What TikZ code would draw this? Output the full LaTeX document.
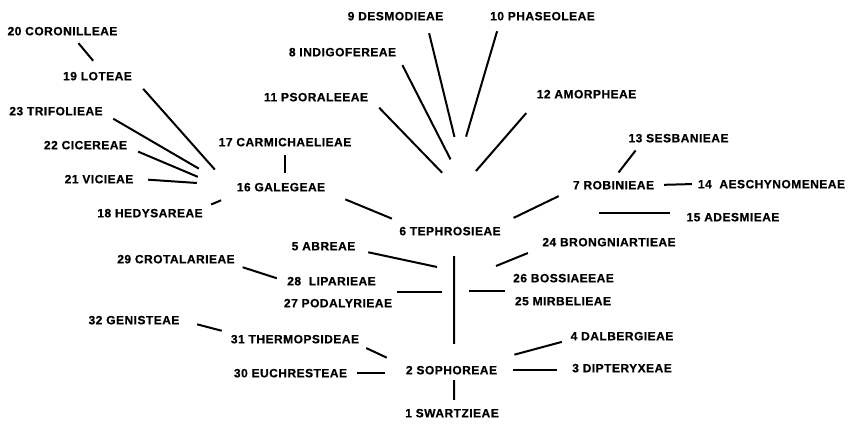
\documentclass[tikz,border=0pt]{standalone}
\usepackage{fontspec}
\setmainfont{Liberation Sans}[LetterSpace=4,FakeBold=0.6]

\begin{document}
\begin{tikzpicture}[x=1pt,y=1pt,
  tribe/.style={font=\bfseries\fontsize{12}{12}\selectfont,
    text height=8.6pt, text depth=0pt, inner xsep=0pt, inner ysep=1.5pt,
    minimum width={#1pt+3pt}},
  link/.style={line width=2pt}]
  \useasboundingbox (0,0) rectangle (853,436);

  % Tribes, placed at the centres of their labels
  \node[tribe=100] (swartz)  at (452,23)    {1 SWARTZIEAE};
  \node[tribe=99]  (sophor)  at (451.5,66)  {2 SOPHOREAE};
  \node[tribe=100] (dipter)  at (622,68)    {3 DIPTERYXEAE};
  \node[tribe=100] (dalberg) at (622,100)   {4 DALBERGIEAE};
  \node[tribe=69]  (abre)    at (323.5,190) {5 ABREAE};
  \node[tribe=100] (tephros) at (450,205)   {6 TEPHROSIEAE};
  \node[tribe=85]  (robin)   at (613.5,251) {7 ROBINIEAE};
  \node[tribe=109] (indigo)  at (342.5,384) {8 INDIGOFEREAE};
  \node[tribe=101] (desmod)  at (395.5,420) {9 DESMODIEAE};
  \node[tribe=105] (phaseol) at (542.5,420) {10 PHASEOLEAE};
  \node[tribe=104] (psoral)  at (316,339)   {11 PSORALEEAE};
  \node[tribe=101] (amorph)  at (586.5,342) {12 AMORPHEAE};
  \node[tribe=101] (sesban)  at (678.5,298) {13 SESBANIEAE};
  \node[tribe=151] (aeschyn) at (771.5,252) {14\ \ AESCHYNOMENEAE};
  \node[tribe=92]  (adesm)   at (733,219)   {15 ADESMIEAE};
  \node[tribe=98]  (galeg)   at (281,249)   {16 GALEGEAE};
  \node[tribe=133] (carmich) at (285,294)   {17 CARMICHAELIEAE};
  \node[tribe=106] (hedys)   at (150,223)   {18 HEDYSAREAE};
  \node[tribe=71]  (lot)     at (97.5,360)  {19 LOTEAE};
  \node[tribe=101] (coronil) at (62.5,405)  {20 CORONILLEAE};
  \node[tribe=74]  (vici)    at (99,257)    {21 VICIEAE};
  \node[tribe=85]  (cicer)   at (85.5,291)  {22 CICEREAE};
  \node[tribe=90]  (trifol)  at (56,325)    {23 TRIFOLIEAE};
  \node[tribe=134] (brong)   at (609,194)   {24 BRONGNIARTIEAE};
  \node[tribe=98]  (mirbel)  at (563,135)   {25 MIRBELIEAE};
  \node[tribe=99]  (bossi)   at (563.5,158) {26 BOSSIAEEAE};
  \node[tribe=102] (podal)   at (338,133)   {27 PODALYRIEAE};
  \node[tribe=89]  (lipar)   at (331.5,155) {28\ \ LIPARIEAE};
  \node[tribe=116] (crotal)  at (176,177)   {29 CROTALARIEAE};
  \node[tribe=117] (euchr)   at (290.5,63)  {30 EUCHRESTEAE};
  \node[tribe=126] (thermop) at (295,97)    {31 THERMOPSIDEAE};
  \node[tribe=104] (genist)  at (134,116)   {32 GENISTEAE};

  % free ends of the short strokes towards the main stem
  \coordinate (j5)  at (437,169);
  \coordinate (j24) at (496,170);
  \coordinate (jL)  at (442,144);
  \coordinate (jR)  at (469,145);
  \coordinate (j15) at (599,223);

  % Galegeae group
  \draw[link,shorten <=8.1pt,shorten >=12pt]    (coronil.-29) -- (lot.61);
  \draw[link,shorten <=12.8pt,shorten >=23.3pt] (lot.-5) -- (galeg.west);
  \draw[link,shorten <=12.1pt,shorten >=36.4pt] (trifol.-2) -- (galeg.west);
  \draw[link,shorten <=9.2pt,shorten >=35.2pt]  (cicer.-4) -- (galeg.184);
  \draw[link,shorten <=10.5pt,shorten >=33.6pt] (vici.east) -- (galeg.178);
  \draw[link,shorten <=7pt,shorten >=18.7pt]    (hedys.6) -- (galeg.188);
  \draw[link,shorten <=7.2pt,shorten >=8.2pt]   (carmich.south) -- (carmich.south |- galeg.north);
  \draw[link,shorten <=16.7pt,shorten >=16.7pt] (galeg.-7) -- (tephros.172);

  % fan above Tephrosieae
  \draw[link,shorten <=11.5pt,shorten >=90.7pt] (desmod.-11) -- (tephros.13);
  \draw[link,shorten <=9.6pt,shorten >=92.1pt]  (phaseol.188) -- (tephros.149);
  \draw[link,shorten <=8.1pt,shorten >=73.7pt]  (indigo.-6) -- (tephros.10);
  \draw[link,shorten <=13.6pt,shorten >=72.7pt] (psoral.-1) -- (tephros.8);
  \draw[link,shorten <=17.4pt,shorten >=71.5pt] (amorph.187) -- (tephros.164);

  % Robinieae group
  \draw[link,shorten <=16.4pt,shorten >=11.8pt] (tephros.7) -- (robin.south west);
  \draw[link,shorten <=8.2pt,shorten >=8.2pt]   (robin.north) -- (sesban.189);
  \draw[link,shorten <=6.5pt,shorten >=2.5pt]   (robin.east) -- (aeschyn.west);
  \draw[link,shorten <=15.5pt] (adesm.west |- j15) -- (j15);

  % main stem and its side strokes
  \draw[link,shorten <=19.2pt,shorten >=20.2pt] (tephros.-55) -- (sophor.67);
  \draw[link,shorten <=13.4pt] (brong.south west) -- (j24);
  \draw[link,shorten <=7.5pt]  (bossi.west |- jR) -- (jR);
  \draw[link,shorten <=19.5pt] (lipar.east |- jL) -- (jL);
  \draw[link,shorten <=8.7pt]  (abre.-7) -- (j5);
  \draw[link,shorten <=7.3pt,shorten >=8.9pt]   (crotal.south east) -- (lipar.west);

  % Sophoreae group
  \draw[link,shorten <=9.8pt,shorten >=8.8pt]   (genist.-2) -- (thermop.north west);
  \draw[link,shorten <=7.2pt,shorten >=15pt]    (thermop.south east) -- (sophor.north west);
  \draw[link,shorten <=6.5pt,shorten >=15.5pt]  (euchr.east) -- (euchr.east -| sophor.west);
  \draw[link,shorten <=35.9pt,shorten >=8.8pt]  (sophor.12) -- (dalberg.184);
  \draw[link,shorten <=10.5pt,shorten >=13.5pt] (sophor.east) -- (sophor.east -| dipter.west);
  \draw[link,shorten <=4.2pt,shorten >=7.2pt]   (sophor.-67) -- (swartz.71);
\end{tikzpicture}
\end{document}
